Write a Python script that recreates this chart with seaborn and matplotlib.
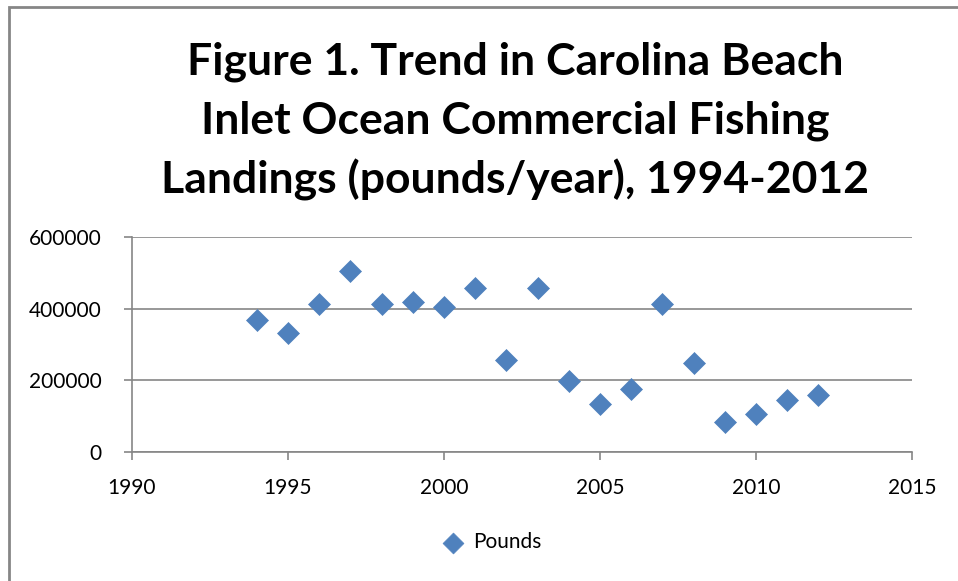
import pandas as pd
import numpy as np
import seaborn as sns
import matplotlib.pyplot as plt
from matplotlib.patches import Rectangle

# values
years = [1994, 1995, 1996, 1997, 1998, 1999, 2000, 2001, 2002, 2003,
         2004, 2005, 2006, 2007, 2008, 2009, 2010, 2011, 2012]
pounds = [369000, 331000, 412000, 505000, 412000, 420000, 406000, 458000, 258000, 458000,
          198000, 135000, 177000, 412000, 247000, 85000, 105000, 145000, 159000]
x_ticks = [1990, 1995, 2000, 2005, 2010, 2015]
y_ticks = [0, 200000, 400000, 600000]
title_lines = ['Figure 1. Trend in Carolina Beach',
               'Inlet Ocean Commercial Fishing',
               'Landings (pounds/year), 1994-2012']

data = pd.DataFrame({'Year': years, 'Pounds': pounds})

sns.set_style('white')
plt.rcParams['font.family'] = ['Lato', 'DejaVu Sans']
plt.rcParams['text.color'] = 'black'
plt.rcParams['xtick.labelcolor'] = 'black'
plt.rcParams['ytick.labelcolor'] = 'black'

fig = plt.figure(figsize=(9.58, 5.81), dpi=100)
ax = fig.add_axes([132 / 958, 129 / 581, 780 / 958, 215 / 581])

grey = '#868686'
sns.scatterplot(data=data, x='Year', y='Pounds', marker='D', s=125,
                color='#4F81BD', edgecolor='#4F81BD', linewidth=0.5,
                label='Pounds', ax=ax, zorder=3)

ax.set_xlim(1990, 2015)
ax.set_ylim(0, 600000)
ax.set_xticks(x_ticks)
ax.set_yticks(y_ticks)
ax.set_xticklabels([str(t) for t in x_ticks])
ax.set_yticklabels([str(t) for t in y_ticks])
ax.set_xlabel('')
ax.set_ylabel('')
ax.grid(axis='y', color=grey, linewidth=1.2)
ax.set_axisbelow(True)
for side in ['top', 'right']:
    ax.spines[side].set_visible(False)
for side in ['left', 'bottom']:
    ax.spines[side].set_color(grey)
    ax.spines[side].set_linewidth(1.2)
ax.tick_params(axis='both', length=6, width=1.2, color=grey, labelsize=15,
               direction='out', bottom=True, left=True)
ax.tick_params(axis='x', pad=13)
ax.tick_params(axis='y', pad=16)

leg = ax.legend(loc='center', bbox_to_anchor=(0.455, -0.42), frameon=False,
                fontsize=15, handletextpad=0.0, markerscale=0.95)

for i, line in enumerate(title_lines):
    fig.text(515 / 958, 1 - (62 + 59 * i) / 581, line,
             ha='center', va='center', fontsize=32, fontweight='bold')

# chart area border
fig.add_artist(Rectangle((8.5 / 958, -0.05), 1.2, 1 - 7.5 / 581 + 0.05,
                         transform=fig.transFigure, fill=False,
                         edgecolor=grey, linewidth=2))

fig.savefig('out.png', dpi=100)
